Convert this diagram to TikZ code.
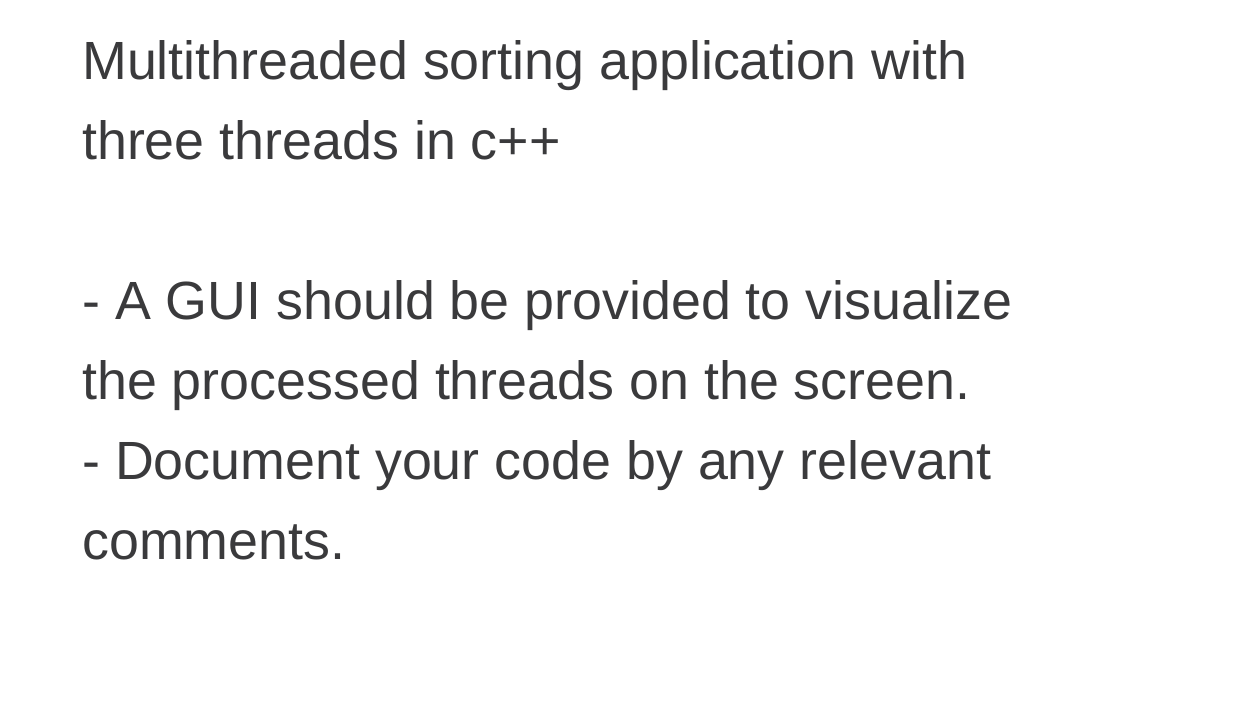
\documentclass[tikz,border=0pt]{standalone}
\usepackage{fontspec}
\setmainfont{Liberation Sans}
\definecolor{txt}{HTML}{3A3A3C}
\begin{document}
\begin{tikzpicture}[x=1bp,y=1bp,line/.style={anchor=base west,inner sep=0pt,text=txt,font=\fontsize{54}{60}\selectfont}]
\useasboundingbox (0,0) rectangle (1242,714);
\node[line] (l1) at (82,634) {Multithreaded sorting application with};
\node[line] (l2) at (82,554) {three threads in c++};
\node[line] (l3) at (82,394) {- A GUI should be provided to visualize};
\node[line] (l4) at (82,314) {the processed threads on the screen.};
\node[line] (l5) at (82,234) {- Document your code by any relevant};
\node[line] (l6) at (82,154) {comments.};
\end{tikzpicture}
\end{document}
